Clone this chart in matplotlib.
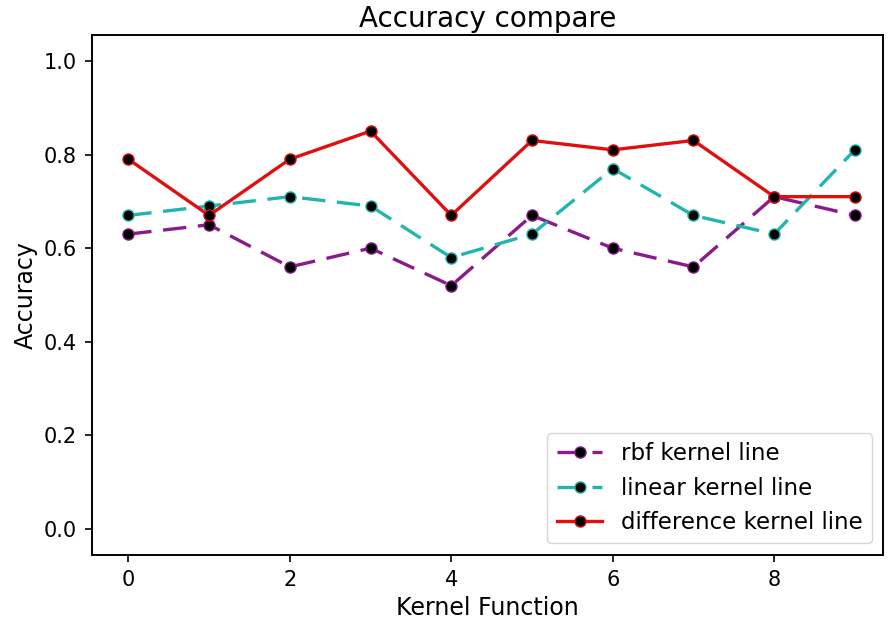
import numpy as np
import matplotlib
matplotlib.use('Agg')
import matplotlib.pyplot as plt

x = np.arange(10)
rbf = [0.63, 0.65, 0.56, 0.60, 0.52, 0.67, 0.60, 0.56, 0.71, 0.67]
linear = [0.67, 0.69, 0.71, 0.69, 0.58, 0.63, 0.77, 0.67, 0.63, 0.81]
diff = [0.79, 0.67, 0.79, 0.85, 0.67, 0.83, 0.81, 0.83, 0.71, 0.71]

fig = plt.figure(figsize=(8.93, 6.27), dpi=100)
ax = fig.add_axes([0.103, 0.115, 0.886, 0.829])

ax.plot(x, rbf, color='#8b1a8b', linestyle='--', dashes=(7, 3.5), linewidth=2.4,
        marker='o', markersize=8, markerfacecolor='black', label='rbf kernel line')
ax.plot(x, linear, color='#22b5b0', linestyle='--', dashes=(7, 3.5), linewidth=2.4,
        marker='o', markersize=8, markerfacecolor='black', label='linear kernel line')
ax.plot(x, diff, color='#e01010', linestyle='-', linewidth=2.4,
        marker='o', markersize=8, markerfacecolor='black', label='difference kernel line')

ax.set_ylim(-0.055, 1.055)
ax.set_xlim(-0.45, 9.35)
ax.set_xticks([0, 2, 4, 6, 8])
ax.set_yticks([0.0, 0.2, 0.4, 0.6, 0.8, 1.0])
ax.tick_params(labelsize=15, length=5, width=1.2, pad=6)
for s in ax.spines.values():
    s.set_linewidth(1.4)

ax.set_title('Accuracy compare', fontsize=20)
ax.set_xlabel('Kernel Function', fontsize=17)
ax.set_ylabel('Accuracy', fontsize=17)
ax.legend(loc='lower right', fontsize=16.5)

fig.savefig('out.png', dpi=100)
